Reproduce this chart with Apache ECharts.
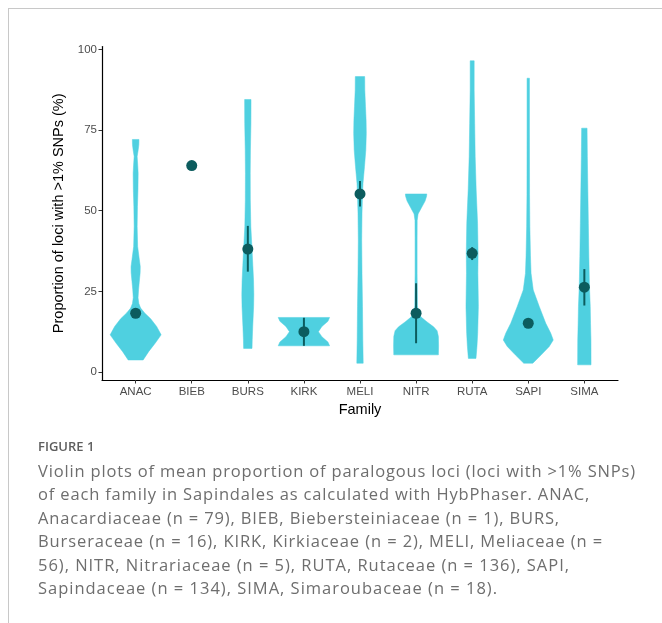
<!DOCTYPE html>
<html>
<head>
<meta charset="utf-8">
<script src="https://cdn.jsdelivr.net/npm/echarts@6/dist/echarts.min.js"></script>
<style>
  html, body { margin: 0; padding: 0; background: #fff; }
  #wrap { position: relative; width: 662px; height: 623px; overflow: hidden; }
  #chart { position: absolute; left: 0; top: 0; width: 662px; height: 623px; }
  .frameTop { position: absolute; left: 8px; top: 8px; width: 654px; height: 1px; background: #c8c8c8; }
  .frameLeft { position: absolute; left: 8px; top: 8px; width: 1px; height: 615px; background: #c8c8c8; }
  #figtitle { position: absolute; left: 38px; top: 437px; font-family: "Open Sans", sans-serif; font-weight: 600; font-size: 13px; color: #5e5e5e; }
  #caption { position: absolute; left: 38px; top: 458.5px; font-family: "Open Sans", sans-serif; font-size: 16.5px; line-height: 23.6px; color: #6e6e6e; white-space: pre; }
  #caption div { display: block; height: 23.6px; }
  #caption span { display: inline-block; }
</style>
</head>
<body>
<div id="wrap">
  <div id="chart"></div>
  <div class="frameTop"></div>
  <div class="frameLeft"></div>
  <div id="figtitle">FIGURE 1</div>
  <div id="caption"></div>
</div>
<script>
// ---- data ----
const categories = ['ANAC', 'BIEB', 'BURS', 'KIRK', 'MELI', 'NITR', 'RUTA', 'SAPI', 'SIMA'];
const yTicks = [0, 25, 50, 75, 100];
const means = [18.2, 64.0, 38.1, 12.5, 55.2, 18.2, 36.8, 15.1, 26.3];
const errLow = [16.8, null, 31.1, 8.1, 51.3, 8.9, 34.7, 14.0, 20.6];
const errHigh = [19.6, null, 45.3, 16.8, 59.2, 27.5, 38.7, 16.3, 31.9];

// violin profiles: [value, relative density half-width]
const violinANAC = [[3.7,7.5],[6.3,13],[8.9,19.5],[11.5,25.5],[14.1,21],[16.5,15],[18.3,9],[19.8,5],[21.2,3.2],[23.0,2.4],[25.5,2.9],[28.5,3.8],[30.8,4.5],[32.7,4.6],[35.0,3.6],[38.9,2.0],[45.1,1.5],[51.3,1.8],[56.4,2.3],[61.6,2.5],[64.5,2.0],[66.8,1.5],[69.0,2.6],[70.5,3.2],[72.1,3.3]];
const violinBIEB = [];
const violinBURS = [[7.3,4.2],[10,4.4],[14.1,4.9],[20.3,5.8],[24,6.0],[28.5,5.7],[33,5.0],[36.8,4.4],[45.1,3.0],[53.3,2.5],[61.6,2.4],[68.8,2.6],[77.1,3.1],[84.5,3.2]];
const violinKIRK = [[8.1,25.7],[9.3,24],[10.9,18],[12.5,14.5],[14.1,18],[15.7,24],[16.9,25.7]];
const violinMELI = [[2.7,3.2],[9.9,2.8],[20.3,2.5],[30.6,2.0],[40.9,1.7],[49.2,2.0],[55,2.5],[58.5,3.0],[63.7,4.5],[68.8,5.8],[74,6.3],[78,6.1],[82.3,5.5],[87.4,4.8],[91.6,4.7]];
const violinNITR = [[5.3,22.3],[8,22.5],[11,22.3],[12.8,21],[14,17.5],[15.5,11],[17,5],[18.5,2.2],[20.5,1.3],[30.6,1.0],[40.9,1.0],[47,1.1],[49,2.0],[51,5.5],[53,9],[54.5,10.5],[55.2,10.7]];
const violinRUTA = [[4.2,3.8],[8,4.8],[12,5.5],[20.3,6.2],[30.6,5.7],[36.8,5.9],[46.1,5.4],[56.4,4.0],[66.8,3.0],[77.1,2.5],[87.4,2.0],[96.5,2.0]];
const violinSAPI = [[2.7,4.5],[5.3,13],[7.9,21],[9.9,25],[12,22.5],[15.1,17.5],[20.3,11],[25.4,5],[30.6,2.8],[36,2.2],[45,1.6],[55,1.3],[75,1.2],[91.1,1.2]];
const violinSIMA = [[2.2,6.7],[9.9,6.6],[15.1,6.2],[20.3,5.9],[26.5,5.1],[35.8,4.5],[46.1,4.0],[56.4,3.5],[66.8,3.0],[75.6,2.7]];

const violins = [violinANAC, violinBIEB, violinBURS, violinKIRK, violinMELI, violinNITR, violinRUTA, violinSAPI, violinSIMA];
const densityScale = 1 / 56.1; // relative density -> category units

const captionLines = [
  'Violin plots of mean proportion of paralogous loci (loci with >1% SNPs)',
  'of each family in Sapindales as calculated with HybPhaser. ANAC,',
  'Anacardiaceae (n = 79), BIEB, Biebersteiniaceae (n = 1), BURS,',
  'Burseraceae (n = 16), KIRK, Kirkiaceae (n = 2), MELI, Meliaceae (n =',
  '56), NITR, Nitrariaceae (n = 5), RUTA, Rutaceae (n = 136), SAPI,',
  'Sapindaceae (n = 134), SIMA, Simaroubaceae (n = 18).'
];
const captionLineWidths = [598, 552, 522, 565, 532, 460];

const violinFill = '#4fd0e0';
const pointColor = '#0c5c5e';
const textGray = '#4d4d4d';

// caption lines, each fitted by letter spacing
(function () {
  const cap = document.getElementById('caption');
  captionLines.forEach((t, i) => {
    const row = document.createElement('div');
    const sp = document.createElement('span');
    sp.textContent = t;
    row.appendChild(sp);
    cap.appendChild(row);
    const w = sp.getBoundingClientRect().width;
    const ls = (captionLineWidths[i] - w) / t.length;
    sp.style.letterSpacing = ls.toFixed(3) + 'px';
  });
})();

const chart = echarts.init(document.getElementById('chart'), null, { renderer: 'canvas' });
const catPositions = categories.map((c, i) => i + 1);

const option = {
  animation: false,
  grid: { left: 102, right: 44, top: 46.6, bottom: 243, containLabel: false },
  xAxis: {
    type: 'value', min: 0.4, max: 9.6,
    name: 'Family', nameLocation: 'middle', nameGap: 21,
    nameTextStyle: { color: '#000', fontSize: 14.5, fontFamily: 'Liberation Sans' },
    axisLine: { show: true, onZero: false, lineStyle: { color: '#000', width: 1.2 } },
    axisTick: { show: true, length: 3.5, customValues: catPositions, lineStyle: { color: '#333' } },
    axisLabel: { show: true, customValues: catPositions, margin: 6, color: textGray, fontSize: 11.5, fontFamily: 'Liberation Sans',
      formatter: v => categories[Math.round(v) - 1] || '' },
    splitLine: { show: false }
  },
  yAxis: {
    type: 'value', min: -2.5, max: 100.9,
    name: 'Proportion of loci with >1% SNPs (%)', nameLocation: 'middle', nameGap: 29,
    nameTextStyle: { color: '#000', fontSize: 14.5, fontFamily: 'Liberation Sans' },
    axisLine: { show: true, onZero: false, lineStyle: { color: '#000', width: 1.2 } },
    axisTick: { show: true, length: 3.5, customValues: yTicks, lineStyle: { color: '#333' } },
    axisLabel: { show: true, customValues: yTicks, margin: 5, color: textGray, fontSize: 11.5, fontFamily: 'Liberation Sans' },
    splitLine: { show: false }
  },
  series: [
    {
      type: 'custom',
      name: 'violin',
      data: categories.map((c, i) => [i + 1]),
      renderItem: function (params, api) {
        const idx = params.dataIndex;
        const prof = violins[idx];
        if (!prof || !prof.length) return null;
        const x = api.value(0);
        const right = prof.map(p => api.coord([x + p[1] * densityScale, p[0]]));
        const left = prof.slice().reverse().map(p => api.coord([x - p[1] * densityScale, p[0]]));
        return {
          type: 'polygon',
          shape: { points: right.concat(left), smooth: 0 },
          style: { fill: violinFill, stroke: violinFill, lineWidth: 0.5 }
        };
      },
      z: 1
    },
    {
      type: 'custom',
      name: 'error',
      data: categories.map((c, i) => [i + 1, errLow[i], errHigh[i]]).filter(d => d[1] != null),
      renderItem: function (params, api) {
        const x = api.value(0);
        const p1 = api.coord([x, api.value(1)]);
        const p2 = api.coord([x, api.value(2)]);
        return {
          type: 'line',
          shape: { x1: p1[0], y1: p1[1], x2: p2[0], y2: p2[1] },
          style: { stroke: pointColor, lineWidth: 2 }
        };
      },
      z: 2
    },
    {
      type: 'scatter',
      name: 'mean',
      symbol: 'circle',
      symbolSize: 11,
      itemStyle: { color: pointColor, opacity: 1 },
      data: means.map((m, i) => [i + 1, m]),
      z: 3
    }
  ]
};
chart.setOption(option);
</script>
</body>
</html>
